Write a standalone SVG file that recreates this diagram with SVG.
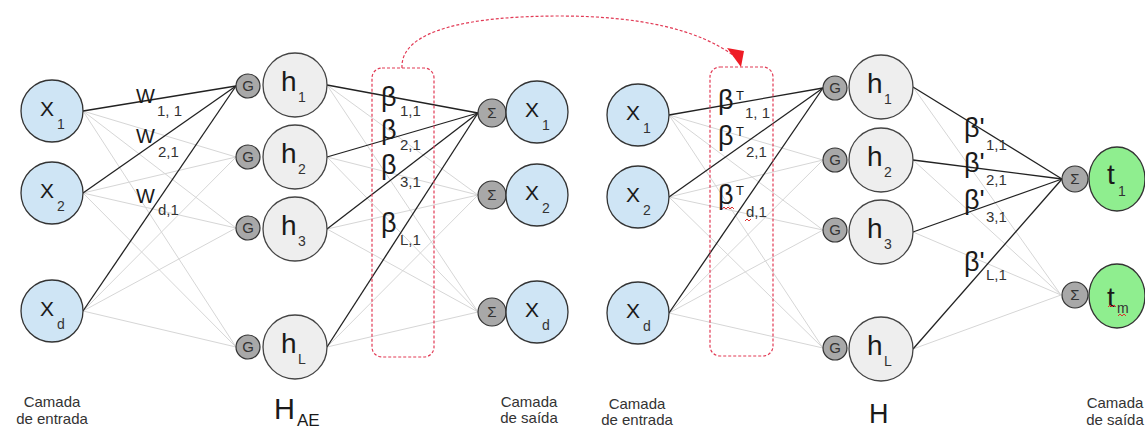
<svg xmlns="http://www.w3.org/2000/svg" width="1145" height="429" viewBox="0 0 1145 429">
  <style>
    text { font-family: "Liberation Sans", Arial, sans-serif; fill: #1a1a1a; }
    .in { fill: #cfe5f5; stroke: #333; stroke-width: 1.3; }
    .hid { fill: #eeeeee; stroke: #444; stroke-width: 1.3; }
    .out { fill: #8fee8f; stroke: #333; stroke-width: 1.3; }
    .g { fill: #a8a8a8; stroke: #333; stroke-width: 1.2; }
    .op { font-size: 15px; text-anchor: middle; fill: #333; }
    .big { font-size: 21px; }
    .hv { font-size: 28px; }
    .sub { font-size: 14px; fill: #333; }
    .w { font-size: 20px; }
    .ws { font-size: 15px; fill: #333; }
    .b { font-size: 27px; }
    .sup { font-size: 13px; }
    .cap { font-size: 15px; text-anchor: middle; fill: #333; }
    .dark { stroke: #222; stroke-width: 1.3; fill: none; }
    .light { stroke: #d6d6d6; stroke-width: 1; fill: none; }
    .sel { fill: none; stroke: #e23a55; stroke-width: 1.2; stroke-dasharray: 3 2; }
    .spell { fill: none; stroke: #e03030; stroke-width: 1; }
  </style>

  <g id="connectors">
    <!-- left network: input -> hidden -->
    <line class="light" x1="83" y1="111" x2="236" y2="157"/>
    <line class="light" x1="83" y1="111" x2="236" y2="228"/>
    <line class="light" x1="83" y1="111" x2="236" y2="347"/>
    <line class="light" x1="83" y1="193" x2="236" y2="157"/>
    <line class="light" x1="83" y1="193" x2="236" y2="228"/>
    <line class="light" x1="83" y1="193" x2="236" y2="347"/>
    <line class="light" x1="83" y1="311" x2="236" y2="157"/>
    <line class="light" x1="83" y1="311" x2="236" y2="228"/>
    <line class="light" x1="83" y1="311" x2="236" y2="347"/>
    <line class="dark" x1="83" y1="111" x2="236" y2="86"/>
    <line class="dark" x1="83" y1="193" x2="236" y2="86"/>
    <line class="dark" x1="83" y1="311" x2="236" y2="86"/>
    <!-- left network: hidden -> output -->
    <line class="light" x1="327" y1="85" x2="478" y2="195"/>
    <line class="light" x1="327" y1="85" x2="478" y2="312"/>
    <line class="light" x1="327" y1="157" x2="478" y2="195"/>
    <line class="light" x1="327" y1="157" x2="478" y2="312"/>
    <line class="light" x1="327" y1="229" x2="478" y2="195"/>
    <line class="light" x1="327" y1="229" x2="478" y2="312"/>
    <line class="light" x1="327" y1="347" x2="478" y2="195"/>
    <line class="light" x1="327" y1="347" x2="478" y2="312"/>
    <line class="dark" x1="327" y1="85" x2="478" y2="113"/>
    <line class="dark" x1="327" y1="157" x2="478" y2="113"/>
    <line class="dark" x1="327" y1="229" x2="478" y2="113"/>
    <line class="dark" x1="327" y1="347" x2="478" y2="113"/>

    <!-- right network: input -> hidden -->
    <line class="light" x1="669" y1="115" x2="823" y2="160"/>
    <line class="light" x1="669" y1="115" x2="823" y2="230"/>
    <line class="light" x1="669" y1="115" x2="823" y2="348"/>
    <line class="light" x1="669" y1="197" x2="823" y2="160"/>
    <line class="light" x1="669" y1="197" x2="823" y2="230"/>
    <line class="light" x1="669" y1="197" x2="823" y2="348"/>
    <line class="light" x1="669" y1="313" x2="823" y2="160"/>
    <line class="light" x1="669" y1="313" x2="823" y2="230"/>
    <line class="light" x1="669" y1="313" x2="823" y2="348"/>
    <line class="dark" x1="669" y1="115" x2="823" y2="88"/>
    <line class="dark" x1="669" y1="197" x2="823" y2="88"/>
    <line class="dark" x1="669" y1="313" x2="823" y2="88"/>
    <!-- right network: hidden -> output -->
    <line class="light" x1="913" y1="87" x2="1061" y2="295"/>
    <line class="light" x1="913" y1="160" x2="1061" y2="295"/>
    <line class="light" x1="913" y1="232" x2="1061" y2="295"/>
    <line class="light" x1="913" y1="349" x2="1061" y2="295"/>
    <line class="dark" x1="913" y1="87" x2="1062" y2="179"/>
    <line class="dark" x1="913" y1="160" x2="1062" y2="179"/>
    <line class="dark" x1="913" y1="232" x2="1062" y2="179"/>
    <line class="dark" x1="913" y1="349" x2="1062" y2="179"/>

    <!-- weight selections and the transfer arrow -->
    <rect class="sel" x="372" y="68" width="62" height="289" rx="10"/>
    <rect class="sel" x="710" y="67" width="63" height="289" rx="10"/>
    <path class="sel" d="M402 68 C400 30 470 16 560 16 C640 16 700 30 734 56"/>
    <polygon points="727,48 744,51 741,67" fill="#ee1c25"/>
  </g>

  <!-- left network: input layer -->
  <g id="in1"><circle class="in" cx="52" cy="111" r="31"/><text class="big" x="40" y="116">X</text><text class="sub" x="57" y="129">1</text></g>
  <g id="in2"><circle class="in" cx="52" cy="193" r="31"/><text class="big" x="40" y="198">X</text><text class="sub" x="57" y="211">2</text></g>
  <g id="ind"><circle class="in" cx="52" cy="311" r="31"/><text class="big" x="40" y="316">X</text><text class="sub" x="57" y="329">d</text></g>

  <!-- left network: hidden layer -->
  <g id="g1"><circle class="g" cx="248" cy="86" r="12"/><text class="op" x="248" y="91">G</text></g>
  <g id="g2"><circle class="g" cx="248" cy="157" r="12"/><text class="op" x="248" y="162">G</text></g>
  <g id="g3"><circle class="g" cx="248" cy="228" r="12"/><text class="op" x="248" y="233">G</text></g>
  <g id="gL"><circle class="g" cx="248" cy="347" r="12"/><text class="op" x="248" y="352">G</text></g>
  <g id="h1"><circle class="hid" cx="295" cy="85" r="32"/><text class="hv" x="281" y="91">h</text><text class="sub" x="298" y="102">1</text></g>
  <g id="h2"><circle class="hid" cx="295" cy="157" r="32"/><text class="hv" x="281" y="163">h</text><text class="sub" x="298" y="174">2</text></g>
  <g id="h3"><circle class="hid" cx="295" cy="229" r="32"/><text class="hv" x="281" y="235">h</text><text class="sub" x="298" y="246">3</text></g>
  <g id="hL"><circle class="hid" cx="295" cy="347" r="32"/><text class="hv" x="281" y="353">h</text><text class="sub" x="298" y="364">L</text></g>

  <!-- left network: output layer -->
  <g id="s1"><circle class="g" cx="492" cy="113" r="14"/><text class="op" x="492" y="118">Σ</text></g>
  <g id="s2"><circle class="g" cx="492" cy="195" r="14"/><text class="op" x="492" y="200">Σ</text></g>
  <g id="sd"><circle class="g" cx="492" cy="312" r="14"/><text class="op" x="492" y="317">Σ</text></g>
  <g id="out1"><circle class="in" cx="537" cy="112" r="31"/><text class="big" x="525" y="117">X</text><text class="sub" x="542" y="130">1</text></g>
  <g id="out2"><circle class="in" cx="537" cy="195" r="31"/><text class="big" x="525" y="200">X</text><text class="sub" x="542" y="213">2</text></g>
  <g id="outd"><circle class="in" cx="537" cy="312" r="31"/><text class="big" x="525" y="317">X</text><text class="sub" x="542" y="330">d</text></g>

  <!-- right network: input layer -->
  <g id="rin1"><circle class="in" cx="638" cy="115" r="31"/><text class="big" x="626" y="120">X</text><text class="sub" x="643" y="133">1</text></g>
  <g id="rin2"><circle class="in" cx="638" cy="197" r="31"/><text class="big" x="626" y="202">X</text><text class="sub" x="643" y="215">2</text></g>
  <g id="rind"><circle class="in" cx="638" cy="313" r="31"/><text class="big" x="626" y="318">X</text><text class="sub" x="643" y="331">d</text></g>

  <!-- right network: hidden layer -->
  <g id="rg1"><circle class="g" cx="835" cy="88" r="12"/><text class="op" x="835" y="93">G</text></g>
  <g id="rg2"><circle class="g" cx="835" cy="160" r="12"/><text class="op" x="835" y="165">G</text></g>
  <g id="rg3"><circle class="g" cx="835" cy="230" r="12"/><text class="op" x="835" y="235">G</text></g>
  <g id="rgL"><circle class="g" cx="835" cy="348" r="12"/><text class="op" x="835" y="353">G</text></g>
  <g id="rh1"><circle class="hid" cx="881" cy="87" r="32"/><text class="hv" x="867" y="93">h</text><text class="sub" x="884" y="104">1</text></g>
  <g id="rh2"><circle class="hid" cx="881" cy="160" r="32"/><text class="hv" x="867" y="166">h</text><text class="sub" x="884" y="177">2</text></g>
  <g id="rh3"><circle class="hid" cx="881" cy="232" r="32"/><text class="hv" x="867" y="238">h</text><text class="sub" x="884" y="249">3</text></g>
  <g id="rhL"><circle class="hid" cx="881" cy="349" r="32"/><text class="hv" x="867" y="355">h</text><text class="sub" x="884" y="366">L</text></g>

  <!-- right network: output layer -->
  <g id="rs1"><circle class="g" cx="1075" cy="179" r="13"/><text class="op" x="1075" y="184">Σ</text></g>
  <g id="rsm"><circle class="g" cx="1075" cy="295" r="13"/><text class="op" x="1075" y="300">Σ</text></g>
  <g id="t1"><ellipse class="out" cx="1117" cy="179" rx="28" ry="32"/><text class="hv" x="1107" y="184">t</text><text class="sub" x="1118" y="196">1</text></g>
  <g id="tm"><ellipse class="out" cx="1117" cy="296" rx="28" ry="32"/><text class="hv" x="1107" y="307">t</text><text class="sub" x="1117" y="313">m</text>
    <path class="spell" d="M1108 307 l2 -2 l2 2 l2 -2 l2 2"/>
    <path class="spell" d="M1118 316 l2 -2 l2 2 l2 -2 l2 2"/>
  </g>

  <!-- input weight labels -->
  <g id="wlabels">
    <text class="w" x="136" y="103">W</text><text class="ws" x="157" y="116">1, 1</text>
    <text class="w" x="136" y="143">W</text><text class="ws" x="158" y="157">2,1</text>
    <text class="w" x="136" y="203">W</text><text class="ws" x="158" y="215">d,1</text>
  </g>

  <!-- output weight labels, left network -->
  <g id="blabels">
    <text class="b" x="381" y="106">β</text><text class="ws" x="400" y="116">1,1</text>
    <text class="b" x="381" y="139">β</text><text class="ws" x="400" y="150">2,1</text>
    <text class="b" x="381" y="174">β</text><text class="ws" x="400" y="187">3,1</text>
    <text class="b" x="381" y="232">β</text><text class="ws" x="400" y="245">L,1</text>
  </g>

  <!-- transposed weight labels -->
  <g id="btlabels">
    <text class="b" x="718" y="109">β</text><text class="sup" x="736" y="100">T</text><text class="ws" x="745" y="118">1, 1</text>
    <text class="b" x="718" y="145">β</text><text class="sup" x="736" y="136">T</text><text class="ws" x="746" y="157">2,1</text>
    <text class="b" x="718" y="204">β</text><text class="sup" x="736" y="195">T</text><text class="ws" x="746" y="217">d,1</text>
    <path class="spell" d="M722 209 l2 -2 l2 2 l2 -2 l2 2 l2 -2 l2 2"/>
    <path class="spell" d="M745 221 l2 -2 l2 2 l2 -2"/>
  </g>

  <!-- output weight labels, right network -->
  <g id="bplabels">
    <text class="b" x="964" y="137">β'</text><text class="ws" x="986" y="150">1,1</text>
    <text class="b" x="964" y="172">β'</text><text class="ws" x="986" y="185">2,1</text>
    <text class="b" x="964" y="209">β'</text><text class="ws" x="986" y="222">3,1</text>
    <text class="b" x="964" y="271">β'</text><text class="ws" x="986" y="280">L,1</text>
  </g>

  <!-- layer captions -->
  <g id="captions">
    <text class="cap" x="52" y="407">Camada</text><text class="cap" x="52" y="424">de entrada</text>
    <text style="font-size:29px" x="274" y="419">H</text><text style="font-size:17px" x="297" y="426">AE</text>
    <text class="cap" x="529" y="407">Camada</text><text class="cap" x="529" y="423">de saída</text>
    <text class="cap" x="637" y="409">Camada</text><text class="cap" x="637" y="425">de entrada</text>
    <text style="font-size:27px" x="869" y="423">H</text>
    <text class="cap" x="1115" y="408">Camada</text><text class="cap" x="1115" y="425">de saída</text>
  </g>
</svg>
